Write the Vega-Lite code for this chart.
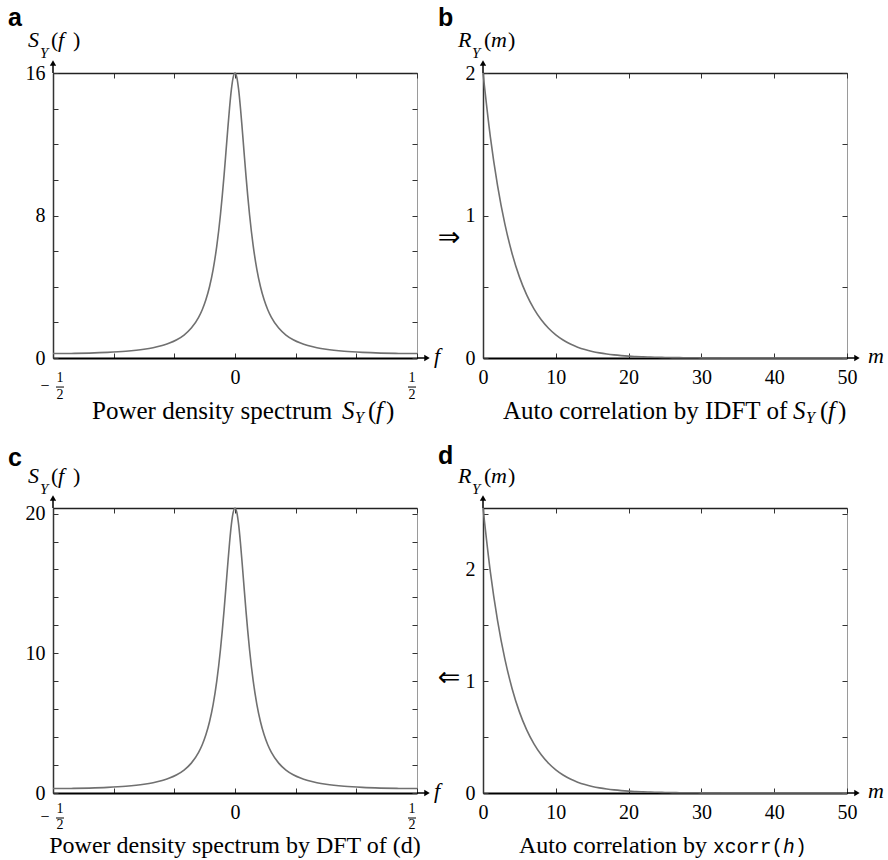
{
"$schema": "https://vega.github.io/schema/vega-lite/v6.json",
"padding": {"left": 7, "top": 5, "right": 0, "bottom": 0},
"columns": 2,
"spacing": {"row": 150, "column": 66},
"bounds": "flush",
"datasets": {
"sa": [{"f":-0.5,"S":0.25},{"f":-0.45,"S":0.256},{"f":-0.4,"S":0.276},{"f":-0.35,"S":0.314},{"f":-0.3,"S":0.379},{"f":-0.25,"S":0.492},{"f":-0.225,"S":0.58},{"f":-0.2,"S":0.703},{"f":-0.18,"S":0.838},{"f":-0.16,"S":1.024},{"f":-0.14,"S":1.288},{"f":-0.12,"S":1.678},{"f":-0.1,"S":2.281},{"f":-0.09,"S":2.71},{"f":-0.08,"S":3.268},{"f":-0.07,"S":4.002},{"f":-0.06,"S":4.981},{"f":-0.05,"S":6.295},{"f":-0.04,"S":8.042},{"f":-0.035,"S":9.098},{"f":-0.03,"S":10.27},{"f":-0.025,"S":11.529},{"f":-0.02,"S":12.817},{"f":-0.015,"S":14.038},{"f":-0.01,"S":15.064},{"f":-0.005,"S":15.756},{"f":0,"S":16},{"f":0.005,"S":15.756},{"f":0.01,"S":15.064},{"f":0.015,"S":14.038},{"f":0.02,"S":12.817},{"f":0.025,"S":11.529},{"f":0.03,"S":10.27},{"f":0.035,"S":9.098},{"f":0.04,"S":8.042},{"f":0.05,"S":6.295},{"f":0.06,"S":4.981},{"f":0.07,"S":4.002},{"f":0.08,"S":3.268},{"f":0.09,"S":2.71},{"f":0.1,"S":2.281},{"f":0.12,"S":1.678},{"f":0.14,"S":1.288},{"f":0.16,"S":1.024},{"f":0.18,"S":0.838},{"f":0.2,"S":0.703},{"f":0.225,"S":0.58},{"f":0.25,"S":0.492},{"f":0.3,"S":0.379},{"f":0.35,"S":0.314},{"f":0.4,"S":0.276},{"f":0.45,"S":0.256},{"f":0.5,"S":0.25}],
"sc": [{"f":-0.5,"S":0.319},{"f":-0.45,"S":0.326},{"f":-0.4,"S":0.352},{"f":-0.35,"S":0.4},{"f":-0.3,"S":0.483},{"f":-0.25,"S":0.627},{"f":-0.225,"S":0.74},{"f":-0.2,"S":0.896},{"f":-0.18,"S":1.068},{"f":-0.16,"S":1.306},{"f":-0.14,"S":1.642},{"f":-0.12,"S":2.139},{"f":-0.1,"S":2.908},{"f":-0.09,"S":3.455},{"f":-0.08,"S":4.167},{"f":-0.07,"S":5.103},{"f":-0.06,"S":6.351},{"f":-0.05,"S":8.026},{"f":-0.04,"S":10.254},{"f":-0.035,"S":11.6},{"f":-0.03,"S":13.094},{"f":-0.025,"S":14.7},{"f":-0.02,"S":16.342},{"f":-0.015,"S":17.898},{"f":-0.01,"S":19.207},{"f":-0.005,"S":20.089},{"f":0,"S":20.4},{"f":0.005,"S":20.089},{"f":0.01,"S":19.207},{"f":0.015,"S":17.898},{"f":0.02,"S":16.342},{"f":0.025,"S":14.7},{"f":0.03,"S":13.094},{"f":0.035,"S":11.6},{"f":0.04,"S":10.254},{"f":0.05,"S":8.026},{"f":0.06,"S":6.351},{"f":0.07,"S":5.103},{"f":0.08,"S":4.167},{"f":0.09,"S":3.455},{"f":0.1,"S":2.908},{"f":0.12,"S":2.139},{"f":0.14,"S":1.642},{"f":0.16,"S":1.306},{"f":0.18,"S":1.068},{"f":0.2,"S":0.896},{"f":0.225,"S":0.74},{"f":0.25,"S":0.627},{"f":0.3,"S":0.483},{"f":0.35,"S":0.4},{"f":0.4,"S":0.352},{"f":0.45,"S":0.326},{"f":0.5,"S":0.319}],
"rb": [{"m":0,"R":2},{"m":1,"R":1.5556},{"m":2,"R":1.2099},{"m":3,"R":0.941},{"m":4,"R":0.7319},{"m":5,"R":0.5693},{"m":6,"R":0.4428},{"m":7,"R":0.3444},{"m":8,"R":0.2678},{"m":9,"R":0.2083},{"m":10,"R":0.162},{"m":11,"R":0.126},{"m":12,"R":0.098},{"m":13,"R":0.0762},{"m":14,"R":0.0593},{"m":15,"R":0.0461},{"m":16,"R":0.0359},{"m":17,"R":0.0279},{"m":18,"R":0.0217},{"m":19,"R":0.0169},{"m":20,"R":0.0131},{"m":21,"R":0.0102},{"m":22,"R":0.0079},{"m":23,"R":0.0062},{"m":24,"R":0.0048},{"m":25,"R":0.0037},{"m":26,"R":0.0029},{"m":27,"R":0.0023},{"m":28,"R":0.0018},{"m":29,"R":0.0014},{"m":30,"R":0.0011},{"m":31,"R":0.0008},{"m":32,"R":0.0006},{"m":33,"R":0.0005},{"m":34,"R":0.0004},{"m":35,"R":0.0003},{"m":36,"R":0.0002},{"m":37,"R":0.0002},{"m":38,"R":0.0001},{"m":39,"R":0.0001},{"m":40,"R":0.0001},{"m":41,"R":0.0001},{"m":42,"R":0.0001},{"m":43,"R":0.0001},{"m":44,"R":0},{"m":45,"R":0},{"m":46,"R":0},{"m":47,"R":0},{"m":48,"R":0},{"m":49,"R":0},{"m":50,"R":0}],
"rd": [{"m":0,"R":2.55},{"m":1,"R":1.9834},{"m":2,"R":1.5426},{"m":3,"R":1.1998},{"m":4,"R":0.9332},{"m":5,"R":0.7259},{"m":6,"R":0.5646},{"m":7,"R":0.4391},{"m":8,"R":0.3414},{"m":9,"R":0.2656},{"m":10,"R":0.2066},{"m":11,"R":0.1607},{"m":12,"R":0.125},{"m":13,"R":0.0972},{"m":14,"R":0.0756},{"m":15,"R":0.0588},{"m":16,"R":0.0458},{"m":17,"R":0.0356},{"m":18,"R":0.0277},{"m":19,"R":0.0215},{"m":20,"R":0.0167},{"m":21,"R":0.013},{"m":22,"R":0.0101},{"m":23,"R":0.0079},{"m":24,"R":0.0061},{"m":25,"R":0.0047},{"m":26,"R":0.0037},{"m":27,"R":0.0029},{"m":28,"R":0.0023},{"m":29,"R":0.0018},{"m":30,"R":0.0014},{"m":31,"R":0.001},{"m":32,"R":0.0008},{"m":33,"R":0.0006},{"m":34,"R":0.0005},{"m":35,"R":0.0004},{"m":36,"R":0.0003},{"m":37,"R":0.0002},{"m":38,"R":0.0002},{"m":39,"R":0.0001},{"m":40,"R":0.0001},{"m":41,"R":0.0001},{"m":42,"R":0.0001},{"m":43,"R":0},{"m":44,"R":0},{"m":45,"R":0},{"m":46,"R":0},{"m":47,"R":0},{"m":48,"R":0},{"m":49,"R":0},{"m":50,"R":0}]
},
"config": {
"view": {"stroke": "#9a9a9a", "strokeWidth": 1},
"font": "Liberation Serif",
"text": {"font": "Liberation Serif", "fontSize": 22, "align": "left", "baseline": "alphabetic", "color": "black"},
"rule": {"color": "black", "strokeWidth": 1.5},
"point": {"filled": true, "color": "black", "opacity": 1, "size": 40},
"axis": {"labelFont": "Liberation Serif", "labelFontSize": 20, "labelColor": "black", "tickColor": "#333", "tickSize": -5, "tickWidth": 1, "grid": false, "labelFlush": false, "labelOverlap": false, "domainColor": "#333", "domainWidth": 1.5},
"axisBottom": {"labelBaseline": "alphabetic", "labelPadding": 30, "domainColor": "black", "domainWidth": 2},
"axisLeft": {"labelPadding": 13, "labelBaseline": "middle"},
"axisTop": {"labels": false, "domainColor": "#222"},
"axisRight": {"labels": false, "domain": false}
},
"concat": [
{
"width": 364, "height": 285,
"resolve": {"axis": {"x": "independent", "y": "independent"}},
"layer": [
{"data": {"name": "sa"}, "mark": {"type": "line", "color": "#707070", "strokeWidth": 1.6, "interpolate": "monotone"},
 "encoding": {
  "x": {"field": "f", "type": "quantitative", "scale": {"domain": [-0.5, 0.5], "nice": false, "zero": false}, "axis": {"orient": "bottom", "title": null, "labelFont": "Liberation Serif", "values": [-0.5, -0.33333, -0.16667, 0, 0.16667, 0.33333, 0.5], "labelExpr": "datum.value == 0 ? '0' : ''"}},
  "y": {"field": "S", "type": "quantitative", "scale": {"domain": [0, 16], "nice": false}, "axis": {"orient": "left", "title": null, "labelFont": "Liberation Serif", "values": [0,2,4,6,8,10,12,14,16], "labelExpr": "datum.value % 8 == 0 ? '' + datum.value : ''"}}}},
{"data": {"name": "sa"}, "mark": {"type": "point", "opacity": 0},
 "encoding": {
  "x": {"field": "f", "type": "quantitative", "axis": {"orient": "top", "title": null, "values": [-0.5, -0.33333, -0.16667, 0, 0.16667, 0.33333, 0.5]}},
  "y": {"field": "S", "type": "quantitative", "axis": {"orient": "right", "title": null, "values": [0,2,4,6,8,10,12,14,16]}}}},
{"data": {"values": [{}]},
 "encoding": {"x": {"datum": -0.5, "type": "quantitative", "axis": null}, "y": {"datum": 16, "type": "quantitative", "axis": null}},
 "layer": [
  {"mark": {"type": "text", "text": "S", "fontStyle": "italic", "dx": -25, "dy": -26}},
  {"mark": {"type": "text", "text": "Y", "fontStyle": "italic", "fontSize": 15, "dx": -13, "dy": -15}},
  {"mark": {"type": "text", "text": "(", "dx": -2, "dy": -26}},
  {"mark": {"type": "text", "text": "f", "fontStyle": "italic", "dx": 5, "dy": -26}},
  {"mark": {"type": "text", "text": ")", "dx": 20, "dy": -26}},
  {"mark": {"type": "text", "text": "a", "font": "Liberation Sans", "fontWeight": "bold", "fontSize": 25, "dx": -45, "dy": -47}},
  {"mark": {"type": "rule"}, "encoding": {"y2": {"datum": 16.5}}},
  {"mark": {"type": "point", "shape": "triangle-up"}, "encoding": {"y": {"datum": 16.56, "type": "quantitative", "axis": null}}}
 ]},
{"data": {"values": [{}]},
 "encoding": {"x": {"datum": 0.5, "type": "quantitative", "axis": null}, "y": {"datum": 0, "type": "quantitative", "axis": null}},
 "layer": [
  {"mark": {"type": "rule"}, "encoding": {"x2": {"datum": 0.522}}},
  {"mark": {"type": "point", "shape": "triangle-right"}, "encoding": {"x": {"datum": 0.5275, "type": "quantitative", "axis": null}}},
  {"mark": {"type": "text", "text": "f", "fontStyle": "italic", "dx": 17, "dy": 5}},
  {"mark": {"type": "text", "text": "1", "fontSize": 14, "align": "center", "dx": -5, "dy": 24}},
  {"mark": {"type": "text", "text": "2", "fontSize": 14, "align": "center", "dx": -5, "dy": 41}}
 ]},
{"data": {"values": [{}]},
 "encoding": {"x": {"datum": 0.5, "type": "quantitative", "axis": null}, "y": {"datum": 6.74, "type": "quantitative", "axis": null}},
 "mark": {"type": "text", "text": "⇒", "font": "DejaVu Sans", "fontSize": 27, "align": "center", "baseline": "middle", "dx": 32}},
{"data": {"values": [{}]},
 "encoding": {"x": {"datum": -0.5, "type": "quantitative", "axis": null}, "y": {"datum": 0, "type": "quantitative", "axis": null}},
 "layer": [
  {"mark": {"type": "text", "text": "−", "fontSize": 16, "align": "center", "dx": -8, "dy": 33}},
  {"mark": {"type": "text", "text": "1", "fontSize": 14, "align": "center", "dx": 7, "dy": 24}},
  {"mark": {"type": "text", "text": "2", "fontSize": 14, "align": "center", "dx": 7, "dy": 41}}
 ]},
{"data": {"values": [{}]},
 "encoding": {"x": {"datum": -0.4918, "type": "quantitative", "axis": null}, "x2": {"datum": -0.4698}, "y": {"datum": -1.63, "type": "quantitative", "axis": null}},
 "mark": {"type": "rule", "strokeWidth": 1}},
{"data": {"values": [{}]},
 "encoding": {"x": {"datum": 0.4753, "type": "quantitative", "axis": null}, "x2": {"datum": 0.4973}, "y": {"datum": -1.63, "type": "quantitative", "axis": null}},
 "mark": {"type": "rule", "strokeWidth": 1}},
{"data": {"values": [{}]},
 "encoding": {"x": {"datum": 0, "type": "quantitative", "axis": null}, "y": {"datum": 0, "type": "quantitative", "axis": null}},
 "layer": [
  {"mark": {"type": "text", "text": "Power density spectrum", "fontSize": 25, "dx": -143, "dy": 61}},
  {"mark": {"type": "text", "text": "S", "fontStyle": "italic", "fontSize": 25, "dx": 107, "dy": 61}},
  {"mark": {"type": "text", "text": "Y", "fontStyle": "italic", "fontSize": 16, "dx": 120, "dy": 65}},
  {"mark": {"type": "text", "text": "(", "fontSize": 25, "dx": 133, "dy": 61}},
  {"mark": {"type": "text", "text": "f", "fontStyle": "italic", "fontSize": 25, "dx": 141, "dy": 61}},
  {"mark": {"type": "text", "text": ")", "fontSize": 25, "dx": 151, "dy": 61}}
 ]}
]
},
{
"width": 364, "height": 285,
"resolve": {"axis": {"x": "independent", "y": "independent"}},
"layer": [
{"data": {"name": "rb"}, "mark": {"type": "line", "color": "#707070", "strokeWidth": 1.6, "interpolate": "monotone"},
 "encoding": {
  "x": {"field": "m", "type": "quantitative", "scale": {"domain": [0, 50], "nice": false, "zero": false}, "axis": {"orient": "bottom", "title": null, "labelFont": "Liberation Serif", "values": [0,10,20,30,40,50], "labelExpr": "'' + datum.value"}},
  "y": {"field": "R", "type": "quantitative", "scale": {"domain": [0, 2], "nice": false}, "axis": {"orient": "left", "title": null, "labelFont": "Liberation Serif", "values": [0,0.5,1,1.5,2], "labelExpr": "datum.value % 1 == 0 ? '' + datum.value : ''"}}}},
{"data": {"name": "rb"}, "mark": {"type": "point", "opacity": 0},
 "encoding": {
  "x": {"field": "m", "type": "quantitative", "axis": {"orient": "top", "title": null, "values": [0,10,20,30,40,50]}},
  "y": {"field": "R", "type": "quantitative", "axis": {"orient": "right", "title": null, "values": [0,0.5,1,1.5,2]}}}},
{"data": {"values": [{}]},
 "encoding": {"x": {"datum": 0, "type": "quantitative", "axis": null}, "y": {"datum": 2, "type": "quantitative", "axis": null}},
 "layer": [
  {"mark": {"type": "text", "text": "R", "fontStyle": "italic", "dx": -25, "dy": -26}},
  {"mark": {"type": "text", "text": "Y", "fontStyle": "italic", "fontSize": 15, "dx": -11, "dy": -15}},
  {"mark": {"type": "text", "text": "(", "dx": 1, "dy": -26}},
  {"mark": {"type": "text", "text": "m", "fontStyle": "italic", "dx": 8, "dy": -26}},
  {"mark": {"type": "text", "text": ")", "dx": 25, "dy": -26}},
  {"mark": {"type": "text", "text": "b", "font": "Liberation Sans", "fontWeight": "bold", "fontSize": 25, "dx": -45, "dy": -47}},
  {"mark": {"type": "rule"}, "encoding": {"y2": {"datum": 2.065}}},
  {"mark": {"type": "point", "shape": "triangle-up"}, "encoding": {"y": {"datum": 2.07, "type": "quantitative", "axis": null}}}
 ]},
{"data": {"values": [{}]},
 "encoding": {"x": {"datum": 50, "type": "quantitative", "axis": null}, "y": {"datum": 0, "type": "quantitative", "axis": null}},
 "layer": [
  {"mark": {"type": "rule"}, "encoding": {"x2": {"datum": 51.2}}},
  {"mark": {"type": "point", "shape": "triangle-right"}, "encoding": {"x": {"datum": 51.37, "type": "quantitative", "axis": null}}},
  {"mark": {"type": "text", "text": "m", "fontStyle": "italic", "dx": 21, "dy": 5}}
 ]},
{"data": {"values": [{}]},
 "encoding": {"x": {"datum": 25, "type": "quantitative", "axis": null}, "y": {"datum": 0, "type": "quantitative", "axis": null}},
 "layer": [
  {"mark": {"type": "text", "text": "Auto correlation by IDFT of", "fontSize": 25, "dx": -162, "dy": 61}},
  {"mark": {"type": "text", "text": "S", "fontStyle": "italic", "fontSize": 25, "dx": 128, "dy": 61}},
  {"mark": {"type": "text", "text": "Y", "fontStyle": "italic", "fontSize": 16, "dx": 141, "dy": 65}},
  {"mark": {"type": "text", "text": "(", "fontSize": 25, "dx": 155, "dy": 61}},
  {"mark": {"type": "text", "text": "f", "fontStyle": "italic", "fontSize": 25, "dx": 163, "dy": 61}},
  {"mark": {"type": "text", "text": ")", "fontSize": 25, "dx": 173, "dy": 61}}
 ]}
]
},
{
"width": 364, "height": 285,
"resolve": {"axis": {"x": "independent", "y": "independent"}},
"layer": [
{"data": {"name": "sc"}, "mark": {"type": "line", "color": "#707070", "strokeWidth": 1.6, "interpolate": "monotone"},
 "encoding": {
  "x": {"field": "f", "type": "quantitative", "scale": {"domain": [-0.5, 0.5], "nice": false, "zero": false}, "axis": {"orient": "bottom", "title": null, "labelFont": "Liberation Serif", "values": [-0.5, -0.33333, -0.16667, 0, 0.16667, 0.33333, 0.5], "labelExpr": "datum.value == 0 ? '0' : ''"}},
  "y": {"field": "S", "type": "quantitative", "scale": {"domain": [0, 20.4], "nice": false}, "axis": {"orient": "left", "title": null, "labelFont": "Liberation Serif", "values": [0,2,4,6,8,10,12,14,16,18,20], "labelExpr": "datum.value % 10 == 0 ? '' + datum.value : ''"}}}},
{"data": {"name": "sc"}, "mark": {"type": "point", "opacity": 0},
 "encoding": {
  "x": {"field": "f", "type": "quantitative", "axis": {"orient": "top", "title": null, "values": [-0.5, -0.33333, -0.16667, 0, 0.16667, 0.33333, 0.5]}},
  "y": {"field": "S", "type": "quantitative", "axis": {"orient": "right", "title": null, "values": [0,2,4,6,8,10,12,14,16,18,20]}}}},
{"data": {"values": [{}]},
 "encoding": {"x": {"datum": -0.5, "type": "quantitative", "axis": null}, "y": {"datum": 20.4, "type": "quantitative", "axis": null}},
 "layer": [
  {"mark": {"type": "text", "text": "S", "fontStyle": "italic", "dx": -25, "dy": -25}},
  {"mark": {"type": "text", "text": "Y", "fontStyle": "italic", "fontSize": 15, "dx": -13, "dy": -14}},
  {"mark": {"type": "text", "text": "(", "dx": -2, "dy": -25}},
  {"mark": {"type": "text", "text": "f", "fontStyle": "italic", "dx": 5, "dy": -25}},
  {"mark": {"type": "text", "text": ")", "dx": 20, "dy": -25}},
  {"mark": {"type": "text", "text": "c", "font": "Liberation Sans", "fontWeight": "bold", "fontSize": 25, "dx": -45, "dy": -42}},
  {"mark": {"type": "rule"}, "encoding": {"y2": {"datum": 21.05}}},
  {"mark": {"type": "point", "shape": "triangle-up"}, "encoding": {"y": {"datum": 21.12, "type": "quantitative", "axis": null}}}
 ]},
{"data": {"values": [{}]},
 "encoding": {"x": {"datum": 0.5, "type": "quantitative", "axis": null}, "y": {"datum": 0, "type": "quantitative", "axis": null}},
 "layer": [
  {"mark": {"type": "rule"}, "encoding": {"x2": {"datum": 0.522}}},
  {"mark": {"type": "point", "shape": "triangle-right"}, "encoding": {"x": {"datum": 0.5275, "type": "quantitative", "axis": null}}},
  {"mark": {"type": "text", "text": "f", "fontStyle": "italic", "dx": 17, "dy": 5}},
  {"mark": {"type": "text", "text": "1", "fontSize": 14, "align": "center", "dx": -5, "dy": 20}},
  {"mark": {"type": "text", "text": "2", "fontSize": 14, "align": "center", "dx": -5, "dy": 36}}
 ]},
{"data": {"values": [{}]},
 "encoding": {"x": {"datum": 0.5, "type": "quantitative", "axis": null}, "y": {"datum": 8.23, "type": "quantitative", "axis": null}},
 "mark": {"type": "text", "text": "⇐", "font": "DejaVu Sans", "fontSize": 27, "align": "center", "baseline": "middle", "dx": 32}},
{"data": {"values": [{}]},
 "encoding": {"x": {"datum": -0.5, "type": "quantitative", "axis": null}, "y": {"datum": 0, "type": "quantitative", "axis": null}},
 "layer": [
  {"mark": {"type": "text", "text": "−", "fontSize": 16, "align": "center", "dx": -8, "dy": 29}},
  {"mark": {"type": "text", "text": "1", "fontSize": 14, "align": "center", "dx": 7, "dy": 20}},
  {"mark": {"type": "text", "text": "2", "fontSize": 14, "align": "center", "dx": 7, "dy": 36}}
 ]},
{"data": {"values": [{}]},
 "encoding": {"x": {"datum": -0.4918, "type": "quantitative", "axis": null}, "x2": {"datum": -0.4698}, "y": {"datum": -1.79, "type": "quantitative", "axis": null}},
 "mark": {"type": "rule", "strokeWidth": 1}},
{"data": {"values": [{}]},
 "encoding": {"x": {"datum": 0.4753, "type": "quantitative", "axis": null}, "x2": {"datum": 0.4973}, "y": {"datum": -1.79, "type": "quantitative", "axis": null}},
 "mark": {"type": "rule", "strokeWidth": 1}},
{"data": {"values": [{}]},
 "encoding": {"x": {"datum": 0, "type": "quantitative", "axis": null}, "y": {"datum": 0, "type": "quantitative", "axis": null}},
 "layer": [
  {"mark": {"type": "text", "text": "Power density spectrum by DFT of (d)", "fontSize": 24, "align": "center", "dy": 60}}
 ]}
]
},
{
"width": 364, "height": 285,
"resolve": {"axis": {"x": "independent", "y": "independent"}},
"layer": [
{"data": {"name": "rd"}, "mark": {"type": "line", "color": "#707070", "strokeWidth": 1.6, "interpolate": "monotone"},
 "encoding": {
  "x": {"field": "m", "type": "quantitative", "scale": {"domain": [0, 50], "nice": false, "zero": false}, "axis": {"orient": "bottom", "title": null, "labelFont": "Liberation Serif", "values": [0,10,20,30,40,50], "labelExpr": "'' + datum.value"}},
  "y": {"field": "R", "type": "quantitative", "scale": {"domain": [0, 2.55], "nice": false}, "axis": {"orient": "left", "title": null, "labelFont": "Liberation Serif", "values": [0,0.5,1,1.5,2,2.5], "labelExpr": "datum.value % 1 == 0 ? '' + datum.value : ''"}}}},
{"data": {"name": "rd"}, "mark": {"type": "point", "opacity": 0},
 "encoding": {
  "x": {"field": "m", "type": "quantitative", "axis": {"orient": "top", "title": null, "values": [0,10,20,30,40,50]}},
  "y": {"field": "R", "type": "quantitative", "axis": {"orient": "right", "title": null, "values": [0,0.5,1,1.5,2,2.5]}}}},
{"data": {"values": [{}]},
 "encoding": {"x": {"datum": 0, "type": "quantitative", "axis": null}, "y": {"datum": 2.55, "type": "quantitative", "axis": null}},
 "layer": [
  {"mark": {"type": "text", "text": "R", "fontStyle": "italic", "dx": -25, "dy": -25}},
  {"mark": {"type": "text", "text": "Y", "fontStyle": "italic", "fontSize": 15, "dx": -11, "dy": -14}},
  {"mark": {"type": "text", "text": "(", "dx": 1, "dy": -25}},
  {"mark": {"type": "text", "text": "m", "fontStyle": "italic", "dx": 8, "dy": -25}},
  {"mark": {"type": "text", "text": ")", "dx": 25, "dy": -25}},
  {"mark": {"type": "text", "text": "d", "font": "Liberation Sans", "fontWeight": "bold", "fontSize": 25, "dx": -45, "dy": -44}},
  {"mark": {"type": "rule"}, "encoding": {"y2": {"datum": 2.63}}},
  {"mark": {"type": "point", "shape": "triangle-up"}, "encoding": {"y": {"datum": 2.64, "type": "quantitative", "axis": null}}}
 ]},
{"data": {"values": [{}]},
 "encoding": {"x": {"datum": 50, "type": "quantitative", "axis": null}, "y": {"datum": 0, "type": "quantitative", "axis": null}},
 "layer": [
  {"mark": {"type": "rule"}, "encoding": {"x2": {"datum": 51.2}}},
  {"mark": {"type": "point", "shape": "triangle-right"}, "encoding": {"x": {"datum": 51.37, "type": "quantitative", "axis": null}}},
  {"mark": {"type": "text", "text": "m", "fontStyle": "italic", "dx": 21, "dy": 5}}
 ]},
{"data": {"values": [{}]},
 "encoding": {"x": {"datum": 25, "type": "quantitative", "axis": null}, "y": {"datum": 0, "type": "quantitative", "axis": null}},
 "layer": [
  {"mark": {"type": "text", "text": "Auto correlation by", "fontSize": 24, "dx": -146, "dy": 60}},
  {"mark": {"type": "text", "text": "xcorr(", "font": "Liberation Mono", "fontSize": 19.5, "dx": 48, "dy": 60}},
  {"mark": {"type": "text", "text": "h", "font": "Liberation Mono", "fontStyle": "italic", "fontSize": 19.5, "dx": 118, "dy": 60}},
  {"mark": {"type": "text", "text": ")", "font": "Liberation Mono", "fontSize": 19.5, "dx": 130, "dy": 60}}
 ]}
]
}
]
}
